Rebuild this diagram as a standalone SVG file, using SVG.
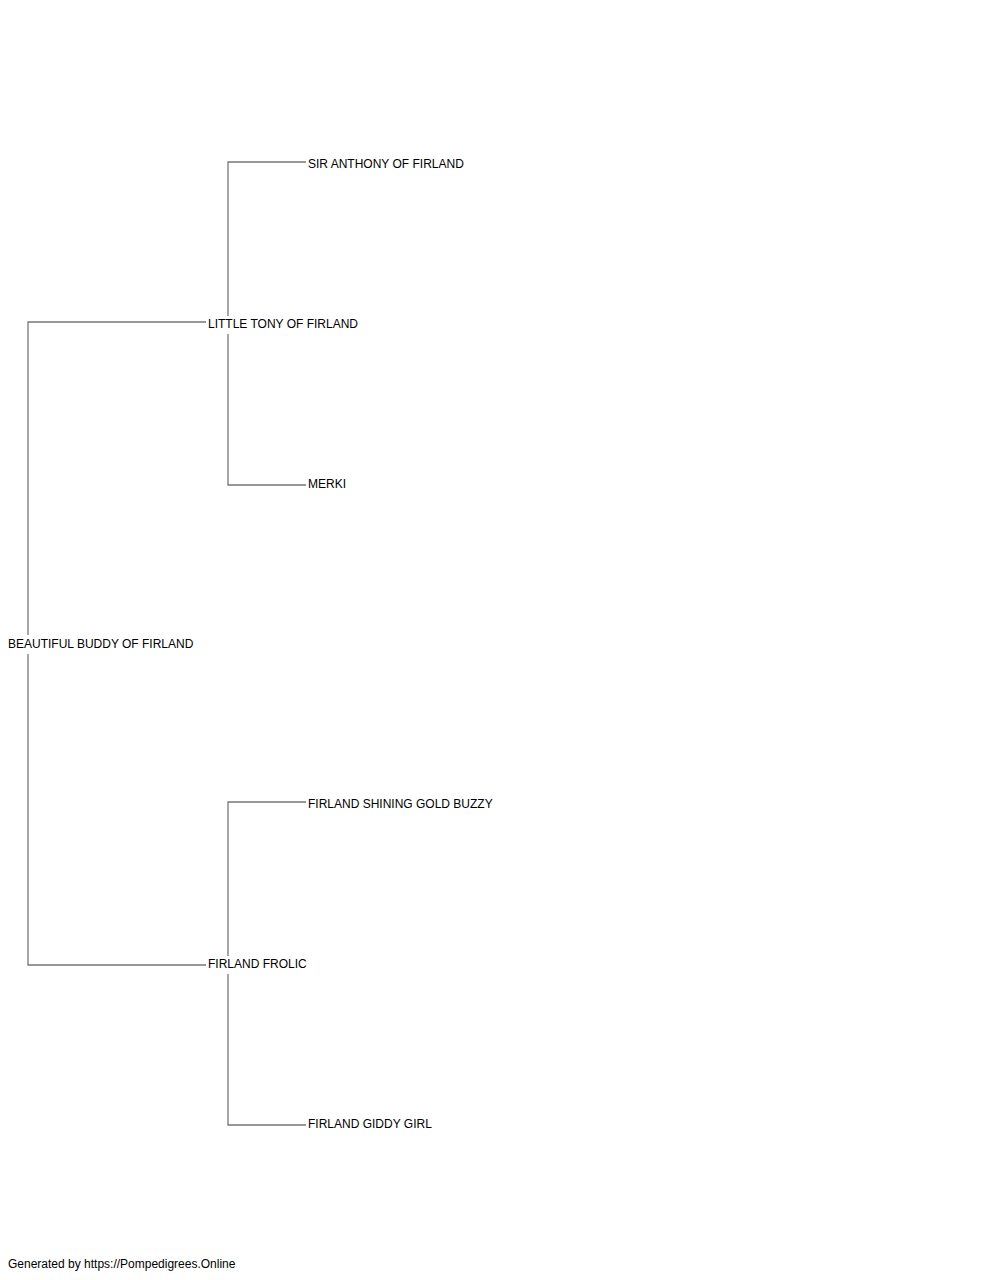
<svg xmlns="http://www.w3.org/2000/svg" width="1000" height="1280" viewBox="0 0 1000 1280">
<style>
.c{fill:none;stroke:#777;stroke-width:1.3}
.t{font-family:"Liberation Sans",Arial,sans-serif;font-size:12px;fill:#000}
.bg{fill:#fff}
</style>
<rect width="1000" height="1280" fill="#fff"/>
<g id="connectors">
<path class="c" d="M206,322H28V965H206"/>
<path class="c" d="M306,162H228V485H306"/>
<path class="c" d="M306,802H228V1125H306"/>
</g>
<g id="n1"><rect class="bg" x="6" y="635" width="190" height="19"/><text class="t" x="8" y="648">BEAUTIFUL BUDDY OF FIRLAND</text></g>
<g id="n2"><rect class="bg" x="206" y="316" width="155" height="18"/><text class="t" x="208" y="328">LITTLE TONY OF FIRLAND</text></g>
<g id="n3"><rect class="bg" x="206" y="956" width="103" height="18"/><text class="t" x="208" y="968">FIRLAND FROLIC</text></g>
<g id="n4"><text class="t" x="308" y="168">SIR ANTHONY OF FIRLAND</text></g>
<g id="n5"><text class="t" x="308" y="488">MERKI</text></g>
<g id="n6"><text class="t" x="308" y="808">FIRLAND SHINING GOLD BUZZY</text></g>
<g id="n7"><text class="t" x="308" y="1128">FIRLAND GIDDY GIRL</text></g>
<g id="footer"><text class="t" x="8" y="1268">Generated by https://Pompedigrees.Online</text></g>
</svg>
